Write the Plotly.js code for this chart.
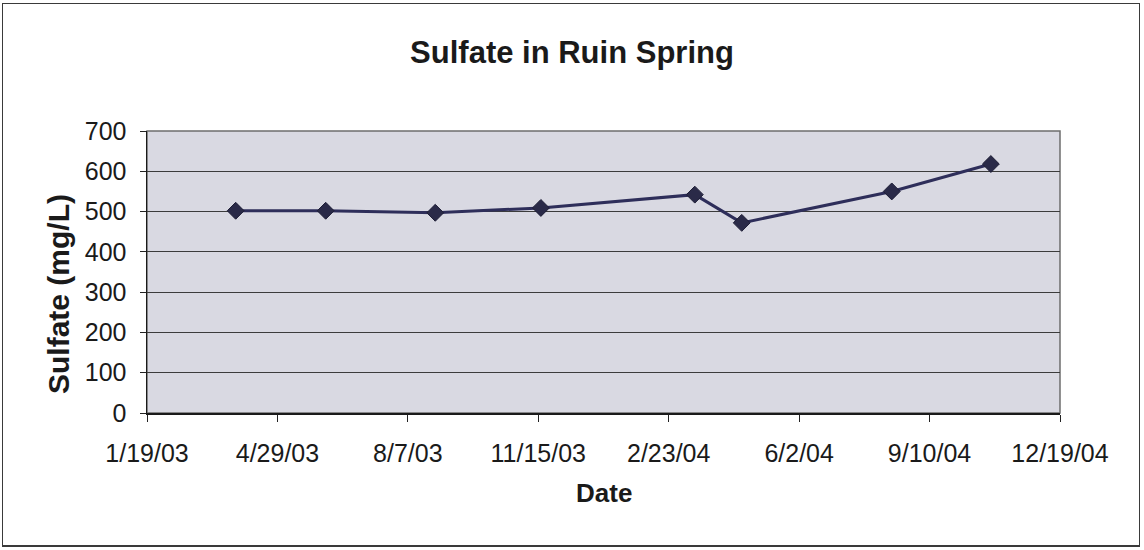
<!DOCTYPE html>
<html>
<head>
<meta charset="utf-8">
<script src="https://cdn.plot.ly/plotly-3.0.1.min.js"></script>
<style>
  html, body { margin: 0; padding: 0; background: #ffffff; }
  #wrap { position: relative; width: 1144px; height: 550px; }
  #frame { position: absolute; left: 2px; top: 3px; width: 1136px; height: 541px;
           border: 1px solid #3a3a3a; border-bottom-width: 2px; pointer-events: none; }
  #chart { position: absolute; left: 0; top: 0; width: 1144px; height: 550px; }
</style>
</head>
<body>
<div id="wrap">
  <div id="chart"></div>
  <div id="frame"></div>
</div>
<script>
// Sampling dates and sulfate concentrations (mg/L)
const sampleDates = ['2003-03-28', '2003-06-05', '2003-08-28', '2003-11-17',
                     '2004-03-14', '2004-04-19', '2004-08-12', '2004-10-27'];
const sulfate = [502, 502, 497, 509, 542, 472, 550, 618];

// Date axis ticks, one every 100 days
const tickDates = ['2003-01-19', '2003-04-29', '2003-08-07', '2003-11-15',
                   '2004-02-23', '2004-06-02', '2004-09-10', '2004-12-19'];
const tickLabels = ['1/19/03', '4/29/03', '8/7/03', '11/15/03',
                    '2/23/04', '6/2/04', '9/10/04', '12/19/04'];
const yTicks = [0, 100, 200, 300, 400, 500, 600, 700];

const font = 'Liberation Sans, Arial, sans-serif';

const trace = {
  x: sampleDates,
  y: sulfate,
  type: 'scatter',
  mode: 'lines+markers',
  line: { color: '#2e2e5a', width: 3 },
  marker: { symbol: 'diamond', size: 13, color: '#2a2a48',
            line: { color: '#1e1e36', width: 1 } },
  hoverinfo: 'x+y'
};

const layout = {
  width: 1144,
  height: 550,
  margin: { l: 147, r: 84, t: 131, b: 137 },
  paper_bgcolor: '#ffffff',
  plot_bgcolor: '#d9d9e2',
  showlegend: false,
  title: {
    text: '<b>Sulfate in Ruin Spring</b>',
    font: { family: font, size: 31, color: '#1a1a1a' },
    x: 0.5, xref: 'container', xanchor: 'center',
    y: 1 - 52 / 550, yanchor: 'middle'
  },
  xaxis: {
    type: 'date',
    range: [tickDates[0], tickDates[tickDates.length - 1]],
    tickmode: 'array',
    tickvals: tickDates,
    ticktext: tickLabels,
    ticks: 'outside', ticklen: 7, tickwidth: 1, tickcolor: '#222',
    ticklabelstandoff: 10,
    showline: true, linecolor: '#1a1a1a', linewidth: 1.5,
    showgrid: false, zeroline: false,
    tickfont: { family: font, size: 25, color: '#1a1a1a' },
    fixedrange: true
  },
  yaxis: {
    range: [0, 700],
    tickmode: 'array',
    tickvals: yTicks,
    ticks: 'outside', ticklen: 6, tickwidth: 1, tickcolor: '#222',
    ticklabelstandoff: 8,
    showline: true, linecolor: '#1a1a1a', linewidth: 1.5,
    showgrid: true, gridcolor: '#3c3c3c', gridwidth: 1,
    zeroline: false,
    tickfont: { family: font, size: 25, color: '#1a1a1a' },
    fixedrange: true
  },
  shapes: [{
    type: 'rect', xref: 'paper', yref: 'paper',
    x0: 0, x1: 1, y0: 0, y1: 1,
    line: { color: '#6e6e6e', width: 1.5 },
    layer: 'below'
  }],
  annotations: [
    {
      text: '<b>Sulfate (mg/L)</b>',
      xref: 'paper', yref: 'paper',
      x: (58 - 147) / (1144 - 147 - 84), y: (413 - 294) / (413 - 131),
      xanchor: 'center', yanchor: 'middle',
      textangle: -90, showarrow: false,
      font: { family: font, size: 30, color: '#1a1a1a' }
    },
    {
      text: '<b>Date</b>',
      xref: 'paper', yref: 'paper',
      x: 0.5, y: (413 - 493) / (413 - 131),
      xanchor: 'center', yanchor: 'middle',
      showarrow: false,
      font: { family: font, size: 26, color: '#1a1a1a' }
    }
  ]
};

Plotly.newPlot('chart', [trace], layout, { displayModeBar: false, staticPlot: true });
</script>
</body>
</html>
